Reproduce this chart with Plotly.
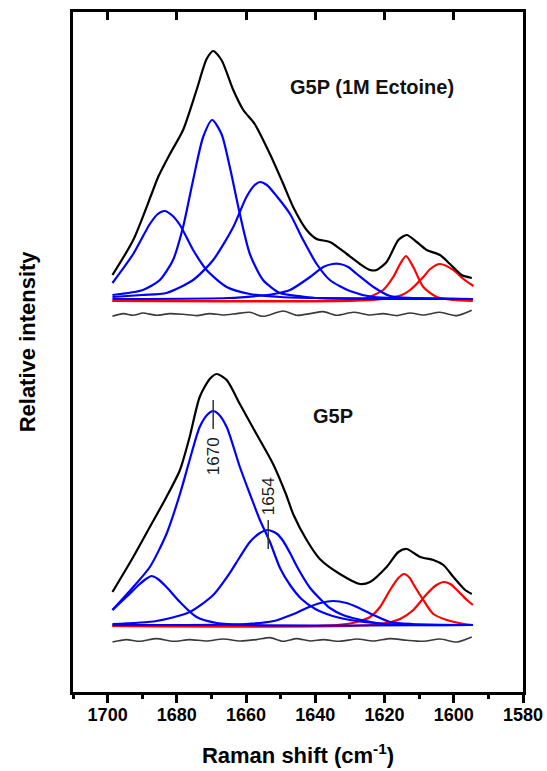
import plotly.graph_objects as go

# ---------------- Upper spectrum: G5P (1M Ectoine) ----------------
top_black_x = [1698.6, 1692.6, 1687.3, 1685.4, 1682.0, 1678.2, 1674.3, 1671.4, 1669.5, 1667.1, 1663.7,
               1660.8, 1657.5, 1653.1, 1649.5, 1646.4, 1642.5, 1639.6, 1635.8, 1630.9, 1627.1, 1624.2,
               1622.3, 1619.4, 1616.0, 1613.6, 1610.7, 1607.8, 1604.0, 1601.1, 1597.7, 1594.8]
top_black_y = [417, 452, 498, 515, 538, 562, 602, 633, 641, 632, 602,
               582, 568, 538, 510, 485, 462, 453, 450, 438, 428, 422,
               422, 430, 452, 457, 450, 442, 437, 428, 417, 414]

top_b1684_x = [1698.6, 1692.6, 1687.8, 1685.5, 1683.5, 1681.5, 1679.1, 1675.3, 1671.4, 1665.6, 1658.9, 1650.0, 1640.0, 1594.5]
top_b1684_y = [409, 438, 468, 478, 481, 477, 467, 442, 422, 405, 398, 395, 394, 393]

top_b1670_x = [1698.6, 1689.8, 1684.9, 1681.1, 1678.2, 1675.3, 1672.4, 1669.8, 1667.1, 1664.7, 1661.8,
               1658.9, 1655.1, 1650.2, 1645.0, 1640.0, 1594.5]
top_b1670_y = [397, 402, 412, 432, 465, 512, 555, 572, 558, 525, 478,
               438, 412, 399, 396, 394, 393]

top_b1656_x = [1698.6, 1690.0, 1683.0, 1675.3, 1669.5, 1663.7, 1659.9, 1657.5, 1656.0, 1654.0, 1651.2,
               1647.3, 1643.5, 1639.6, 1635.8, 1630.0, 1623.2, 1615.0, 1594.5]
top_b1656_y = [395, 397, 399, 412, 432, 465, 495, 507, 510, 507, 496,
               478, 452, 428, 412, 401, 395, 394, 393]

top_b1634_x = [1698.6, 1665.0, 1657.0, 1652.0, 1647.3, 1641.5, 1637.7, 1635.0, 1632.9, 1630.5, 1628.0,
               1623.2, 1618.4, 1612.0, 1594.5]
top_b1634_y = [393, 394, 396, 398, 402, 415, 425, 428, 428, 425, 418,
               405, 396, 394, 393]

top_r1614_x = [1698.6, 1640.0, 1630.0, 1626.1, 1620.4, 1617.5, 1615.5, 1613.8, 1611.7, 1608.8, 1604.9, 1600.0, 1594.5]
top_r1614_y = [391, 391, 392, 393, 402, 415, 428, 436, 425, 405, 395, 392, 391]

top_r1604_x = [1698.6, 1630.0, 1620.4, 1615.0, 1612.6, 1608.8, 1606.8, 1604.0, 1600.1, 1597.2, 1594.3]
top_r1604_y = [391, 391, 393, 397, 402, 415, 423, 428, 422, 413, 406]

top_resid_x = [1698.6, 1695.5, 1692.6, 1689.8, 1685.9, 1682.0, 1678.2, 1674.3, 1670.5, 1666.6, 1662.7,
               1658.9, 1655.1, 1649.3, 1645.4, 1641.5, 1637.7, 1633.8, 1629.0, 1624.2, 1620.4, 1616.5,
               1612.6, 1608.8, 1604.0, 1599.1, 1594.8]
top_resid_y = [375.7, 378.4, 376.7, 379.0, 376.7, 378.4, 377.7, 376.4, 378.4, 377.0, 378.4,
               379.7, 375.7, 381.0, 376.7, 378.4, 380.4, 376.7, 379.7, 377.0, 378.4, 376.4,
               379.0, 377.0, 379.7, 376.4, 381.7]

# ---------------- Lower spectrum: G5P ----------------
bot_black_x = [1698.6, 1692.6, 1687.8, 1683.0, 1679.1, 1676.3, 1673.4, 1670.5, 1668.5, 1665.6, 1661.8,
               1657.0, 1652.2, 1648.5, 1646.4, 1642.5, 1638.7, 1632.9, 1627.1, 1624.2, 1619.4, 1616.0,
               1613.6, 1609.7, 1605.9, 1603.0, 1600.1, 1596.7, 1594.8]
bot_black_y = [100, 135, 165, 195, 222, 255, 295, 313, 318, 312, 288,
               258, 228, 198, 178, 152, 133, 118, 108, 110, 125, 140,
               143, 135, 132, 127, 115, 102, 98]

bot_b1687_x = [1698.6, 1694.6, 1690.7, 1688.5, 1687.3, 1685.5, 1683.0, 1679.1, 1674.3, 1668.5, 1660.0, 1594.5]
bot_b1687_y = [82, 95, 108, 114, 116, 113, 105, 90, 75, 69, 67, 67]

bot_b1670_x = [1698.6, 1692.6, 1687.8, 1683.0, 1679.1, 1676.3, 1673.4, 1671.0, 1669.5, 1668.0, 1665.6,
               1661.8, 1658.9, 1656.0, 1653.1, 1650.2, 1647.3, 1644.0, 1640.0, 1635.0, 1630.0, 1620.0, 1594.5]
bot_b1670_y = [82, 105, 125, 158, 198, 232, 265, 278, 281, 278, 265,
               225, 198, 172, 150, 124, 107, 93, 83, 76, 72, 68, 67]

bot_b1654_x = [1698.6, 1685.9, 1676.3, 1669.5, 1664.7, 1661.8, 1658.9, 1656.0, 1653.6, 1651.0, 1649.3,
               1647.3, 1645.4, 1641.5, 1638.0, 1635.8, 1632.0, 1628.0, 1620.0, 1594.5]
bot_b1654_y = [68, 71, 80, 97, 119, 135, 150, 159, 162, 158, 151,
               139, 126, 104, 91, 84, 77, 73, 68, 67]

bot_b1633_x = [1698.6, 1660.0, 1652.0, 1649.3, 1645.5, 1642.5, 1638.5, 1634.8, 1631.0, 1628.0, 1623.2,
               1618.4, 1612.0, 1594.5]
bot_b1633_y = [67, 68, 71, 74, 79, 84, 89, 91, 89, 85, 77,
               70, 68, 67]

bot_r1615_x = [1698.6, 1640.0, 1630.9, 1627.0, 1624.2, 1621.3, 1618.4, 1616.0, 1614.4, 1612.7, 1611.7,
               1608.8, 1605.9, 1602.0, 1597.0, 1594.5]
bot_r1615_y = [66, 66, 68, 71, 75, 85, 102, 114, 118, 114, 108,
               92, 78, 72, 68, 67]

bot_r1604_x = [1698.6, 1630.0, 1621.3, 1615.5, 1611.7, 1607.8, 1605.0, 1603.0, 1601.0, 1599.1, 1596.2, 1594.5]
bot_r1604_y = [66, 66, 68, 73, 82, 98, 107, 110, 108, 102, 92, 87]

bot_resid_x = [1698.6, 1694.6, 1690.7, 1685.9, 1681.1, 1676.3, 1671.4, 1666.6, 1661.8, 1657.0, 1653.1,
               1649.3, 1645.4, 1641.5, 1637.7, 1632.9, 1628.0, 1623.2, 1618.4, 1613.6, 1608.8, 1604.0,
               1599.1, 1594.8]
bot_resid_y = [50.0, 52.4, 50.7, 53.4, 50.7, 52.4, 51.0, 53.0, 51.0, 52.4, 54.4,
               50.7, 53.4, 51.0, 52.4, 50.7, 53.0, 51.0, 53.4, 51.7, 50.7, 53.0,
               50.0, 55.0]

# peak labels in the lower spectrum
peak_labels = ["1670", "1654"]
peak_pos = [1669.5, 1653.6]
peak_tick_lo = [263, 143]
peak_tick_hi = [292, 172]
peak_label_y = [236, 196]

# panel labels
panel_labels = ["G5P (1M Ectoine)", "G5P"]
panel_label_x = [1623.5, 1634.8]
panel_label_y = [605, 276]

x_ticks = [1700, 1680, 1660, 1640, 1620, 1600, 1580]

BLACK = "#000000"
BLUE = "#0000FF"
RED = "#FF0000"
GREY = "#3a3a3a"
FONT = "Liberation Sans, Arial"

fig = go.Figure()


def add(x, y, color, width, smoothing=0.7):
    fig.add_trace(go.Scatter(x=x, y=y, mode="lines",
                             line=dict(color=color, width=width, shape="spline", smoothing=smoothing),
                             hoverinfo="skip", showlegend=False))


# upper
add(top_resid_x, top_resid_y, GREY, 1.6)
add(top_r1614_x, top_r1614_y, RED, 2.2)
add(top_r1604_x, top_r1604_y, RED, 2.2)
for xs, ys in [(top_b1684_x, top_b1684_y), (top_b1670_x, top_b1670_y),
               (top_b1656_x, top_b1656_y), (top_b1634_x, top_b1634_y)]:
    add(xs, ys, BLUE, 2.2)
add(top_black_x, top_black_y, BLACK, 2.2)

# lower
add(bot_resid_x, bot_resid_y, GREY, 1.6)
add(bot_r1615_x, bot_r1615_y, RED, 2.2)
add(bot_r1604_x, bot_r1604_y, RED, 2.2)
for xs, ys in [(bot_b1687_x, bot_b1687_y), (bot_b1670_x, bot_b1670_y),
               (bot_b1654_x, bot_b1654_y), (bot_b1633_x, bot_b1633_y)]:
    add(xs, ys, BLUE, 2.2)
add(bot_black_x, bot_black_y, BLACK, 2.2)

# peak marker ticks
for p, lo, hi in zip(peak_pos, peak_tick_lo, peak_tick_hi):
    fig.add_trace(go.Scatter(x=[p, p], y=[lo, hi], mode="lines",
                             line=dict(color="#333333", width=1.5),
                             hoverinfo="skip", showlegend=False))

# invisible trace to activate the top (mirror) axis
fig.add_trace(go.Scatter(x=[], y=[], xaxis="x2", mode="lines", showlegend=False, hoverinfo="skip"))

for lab, p, ly in zip(peak_labels, peak_pos, peak_label_y):
    fig.add_annotation(x=p, y=ly, text=lab, showarrow=False, textangle=-90,
                       font=dict(family=FONT, size=17, color="#1a1a1a"))

for lab, lx, ly in zip(panel_labels, panel_label_x, panel_label_y):
    fig.add_annotation(x=lx, y=ly, text="<b>%s</b>" % lab, showarrow=False,
                       font=dict(family=FONT, size=20, color="#111111"))

# y-axis title
fig.add_annotation(xref="paper", yref="paper", x=-0.101, y=0.515, xanchor="center", yanchor="middle",
                   text="<b>Relative intensity</b>",
                   showarrow=False, textangle=-90, font=dict(family=FONT, size=22, color="black"))

fig.update_layout(
    width=547, height=771,
    margin=dict(l=73, r=24, t=12, b=79),
    paper_bgcolor="white", plot_bgcolor="white",
    showlegend=False,
    font=dict(family=FONT, color="black"),
    xaxis=dict(
        range=[1710, 1580], tickvals=x_ticks, ticktext=["<b>%d</b>" % t for t in x_ticks],
        ticks="outside", ticklen=8, tickwidth=2.5, tickcolor="black",
        ticklabelstandoff=-3,
        minor=dict(dtick=10, tick0=1580, ticks="outside", ticklen=4.5, tickwidth=2.5, tickcolor="black"),
        showline=True, linewidth=2.5, linecolor="black", mirror=True,
        showgrid=False, zeroline=False, automargin=False,
        tickfont=dict(size=18, family=FONT, color="black"),
        title=dict(text="<b>Raman shift (cm<sup>-1</sup>)</b>", standoff=24,
                   font=dict(size=22, family=FONT, color="black")),
    ),
    xaxis2=dict(
        overlaying="x", side="top", range=[1710, 1580],
        tickvals=[1700, 1680, 1660, 1640, 1620, 1600],
        ticks="inside", ticklen=8, tickwidth=2.5, tickcolor="black",
        showticklabels=False, showgrid=False, zeroline=False, showline=False, automargin=False,
    ),
    yaxis=dict(
        range=[0, 680], showticklabels=False, ticks="",
        showline=True, linewidth=2.5, linecolor="black", mirror=True,
        showgrid=False, zeroline=False, automargin=False,
    ),
)

fig.write_html("out.html")
